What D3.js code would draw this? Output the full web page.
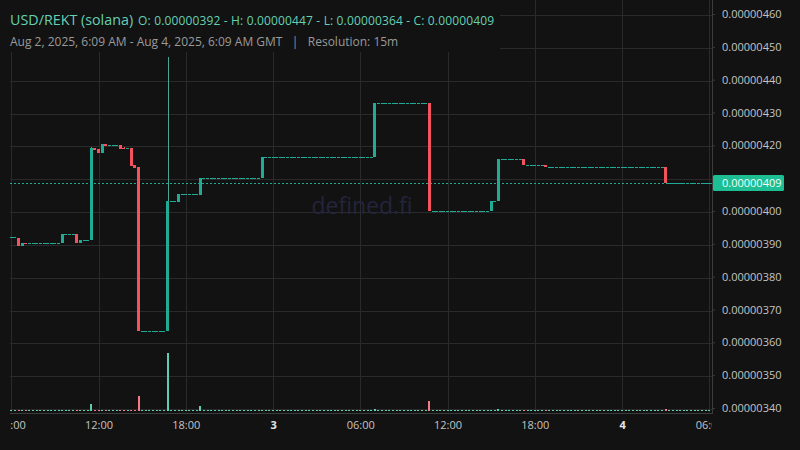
<!DOCTYPE html>
<html><head><meta charset="utf-8">
<script src="https://cdn.jsdelivr.net/npm/d3@7"></script>
<style>html,body{margin:0;padding:0;background:#121212;}svg{display:block;font-family:"Open Sans",sans-serif;}</style>
</head><body><svg id="c" width="800" height="450"></svg>
<script>
// prices in units of 1e-9 (i.e. 392 => 0.00000392)
const pairTitle = "USD/REKT (solana)";
const subtitle = "Aug 2, 2025, 6:09 AM - Aug 4, 2025, 6:09 AM GMT   |   Resolution: 15m";
const startTime = Date.UTC(2025, 7, 2, 6, 0);
const candleMinutes = 15;

const opens = [
 392,392,391.7,389.4,390.4,
 390.2,390.2,390.2,390.2,390.2,390.2,390.2,390.2,390.2,
 390.2,
 393.1,393.1,393.1,
 393.1,390.3,
 391.2,391.2,
 391.2,419.1,418.9,417.8,420.4,
 420.0,420.0,420.0,
 420.0,419.2,419.1,419.2,414.0,413.4,
 363.6,363.6,363.6,363.6,363.6,363.6,363.6,
 363.6,
 403.0,403.0,
 402.8,
 405.2,405.2,405.2,405.2,405.2,
 405.0,
 410.0,410.0,410.0,410.0,410.0,410.0,410.0,410.0,410.0,410.0,410.0,410.0,410.0,410.0,410.0,410.0,
 410.0,
 416.3,416.3,416.3,416.3,416.3,416.3,416.3,416.3,416.3,416.3,416.3,416.3,416.3,416.3,416.3,
 416.3,416.3,416.3,416.3,416.3,416.3,416.3,416.3,416.3,416.3,416.3,416.3,416.3,416.3,416.3,
 416.3,
 432.8,432.8,432.8,432.8,432.8,432.8,432.8,432.8,432.8,432.8,432.8,432.8,432.8,432.8,
 432.8,
 400.0,400.0,400.0,400.0,400.0,400.0,400.0,400.0,400.0,400.0,400.0,400.0,400.0,400.0,400.0,400.0,
 400.0,403.1,403.1,
 415.8,415.8,415.8,415.8,415.8,415.8,
 415.8,
 413.9,413.9,413.9,413.9,413.9,
 414.0,
 413.3,413.3,413.3,413.3,413.3,413.3,413.3,413.3,413.3,413.3,413.3,413.3,413.3,413.3,413.3,413.3,
 413.3,413.3,413.3,413.3,413.3,413.3,413.3,413.3,413.3,413.3,413.3,413.3,413.3,413.3,413.3,413.3,
 413.4,
 408.6,408.6,408.6,408.6,408.6,408.6,408.6,408.6,408.6,408.6,408.6,408.6
];
const closes = [
 392,392,389.4,390.3,390.2,
 390.2,390.2,390.2,390.2,390.2,390.2,390.2,390.2,390.2,
 393.1,
 393.1,393.1,393.1,
 390.3,391.2,
 391.2,391.2,
 419.1,418.6,417.8,420.4,419.9,
 420.0,420.0,420.0,
 418.9,419.0,419.1,413.8,413.2,363.6,
 363.6,363.6,363.6,363.6,363.6,363.6,363.6,
 403.0,
 403.0,403.0,
 405.2,
 405.2,405.2,405.2,405.2,405.2,
 410.0,
 410.0,410.0,410.0,410.0,410.0,410.0,410.0,410.0,410.0,410.0,410.0,410.0,410.0,410.0,410.0,410.0,
 416.3,
 416.3,416.3,416.3,416.3,416.3,416.3,416.3,416.3,416.3,416.3,416.3,416.3,416.3,416.3,416.3,
 416.3,416.3,416.3,416.3,416.3,416.3,416.3,416.3,416.3,416.3,416.3,416.3,416.3,416.3,416.3,
 432.8,
 432.8,432.8,432.8,432.8,432.8,432.8,432.8,432.8,432.8,432.8,432.8,432.8,432.8,432.8,
 400.0,
 400.0,400.0,400.0,400.0,400.0,400.0,400.0,400.0,400.0,400.0,400.0,400.0,400.0,400.0,400.0,400.0,
 403.1,403.1,415.8,
 415.8,415.8,415.8,415.8,415.8,415.8,
 413.9,
 413.9,413.9,413.9,413.9,413.9,
 413.3,
 413.3,413.3,413.3,413.3,413.3,413.3,413.3,413.3,413.3,413.3,413.3,413.3,413.3,413.3,413.3,413.3,
 413.3,413.3,413.3,413.3,413.3,413.3,413.3,413.3,413.3,413.3,413.3,413.3,413.3,413.3,413.3,413.3,
 408.6,
 408.6,408.6,408.6,408.6,408.6,408.6,408.6,408.6,408.6,408.6,408.6,408.6
];
// wick extremes that differ from the body (index -> value)
const highOverrides = [[22, 419.5], [31, 419.6], [43, 446.8]];
const lowOverrides = [];
const volumes = [
 0,0,1.5,1.5,0.5,
 0,0,0,0,0,0,0,0,0,
 0.5,
 0,0,0,
 0.5,0.5,
 0,0,
 8,0.5,0.5,1.2,0.5,
 0,0,0,
 0.5,0.5,0,1.3,0.5,16,
 0,0,0,0,0,0,0,
 59,
 0,0,
 0.5,
 0,0,0,0,0,
 6,
 0,0,0,0,0,0,0,0,0,0,0,0,0,0,0,0,
 1.2,
 0,0,0,0,0,0,0,0,0,0,0,0,0,0,0,
 0,0,0,0,0,0,0,0,0,0,0,0,0,0,0,
 3,
 0,0,0,0,0,0,0,0,0,0,0,0,0,0,
 11,
 0,0,0,0,0,0,0,0,0,0,0,0,0,0,0,0,
 1.2,0,3,
 0,0,0,0,0,0,
 1.2,
 0,0,0,0,0,
 0.5,
 0,0,0,0,0,0,0,0,0,0,0,0,0,0,0,0,
 0,0,0,0,0,0,0,0,0,0,0,0,0,0,0,0,
 3,
 0,0,0,0,0,0,0,0,0,0,0,0
];
const priceTicks = [340,350,360,370,380,390,400,410,420,430,440,450,460];
const timeTicks = [Date.UTC(2025,7,2,6),Date.UTC(2025,7,2,12),Date.UTC(2025,7,2,18),Date.UTC(2025,7,3,0),
  Date.UTC(2025,7,3,6),Date.UTC(2025,7,3,12),Date.UTC(2025,7,3,18),Date.UTC(2025,7,4,0),Date.UTC(2025,7,4,6)];
const timeTickLabels = ["06:00","12:00","18:00","3","06:00","12:00","18:00","4","06:00"];

(function () {
const fmt = v => (v * 1e-8).toFixed(8);

const data = opens.map((o, i) => {
  const c = closes[i];
  let h = Math.max(o, c), l = Math.min(o, c);
  highOverrides.forEach(([k, v]) => { if (k === i) h = v; });
  lowOverrides.forEach(([k, v]) => { if (k === i) l = v; });
  return { t: new Date(startTime + i * candleMinutes * 60000), o, h, l, c, v: volumes[i] };
});

const W = 800, HH = 450, PL = 10, PR = 712, PT = 0, PB = 412;
const BG = "#121212", GRID = "#2a2a2a", UP = "#22ab94", DOWN = "#f4525d",
      VUP = "#5fcdb1", VDOWN = "#f47a86", TXT = "#c4c4c4";

const svg = d3.select("#c");
svg.append("rect").attr("width", W).attr("height", HH).attr("fill", BG);
const defs = svg.append("defs");
defs.append("clipPath").attr("id", "plot").append("rect")
  .attr("x", PL).attr("y", PT).attr("width", PR - PL).attr("height", PB - PT);
defs.append("clipPath").attr("id", "xax").append("rect")
  .attr("x", PL).attr("y", PB).attr("width", PR - PL).attr("height", HH - PB);

const x = d3.scaleTime().domain([new Date(Date.UTC(2025,7,2,6)), new Date(Date.UTC(2025,7,4,6))]).range([11.3, 709.3]);
const y = d3.scaleLinear().domain([340, 460]).range([408, 14]);
const vy = d3.scaleLinear().domain([0, d3.max(volumes)]).range([411.5, 352.5]);

const g = svg.append("g").attr("clip-path", "url(#plot)").attr("shape-rendering", "crispEdges");
g.selectAll(".hg").data(priceTicks).join("line")
  .attr("x1", PL).attr("x2", PR).attr("y1", d => Math.round(y(d)) + 1.5).attr("y2", d => Math.round(y(d)) + 1.5)
  .attr("stroke", GRID);
g.selectAll(".vg").data(timeTicks).join("line")
  .attr("y1", PT).attr("y2", PB).attr("x1", d => Math.round(x(d)) + 0.5).attr("x2", d => Math.round(x(d)) + 0.5)
  .attr("stroke", GRID);

svg.append("text").attr("x", 362).attr("y", 214).attr("text-anchor", "middle")
  .attr("font-size", 23).attr("fill", "#24243c").text("defined.fi");

g.selectAll(".vol").data(data).join("rect")
  .attr("x", d => Math.round(x(d.t) - 1)).attr("width", 2)
  .attr("y", d => Math.min(Math.round(vy(d.v)), 410))
  .attr("height", d => 411 - Math.min(Math.round(vy(d.v)), 410))
  .attr("fill", d => d.c >= d.o ? VUP : VDOWN);

const last = data[data.length - 1];
g.append("line").attr("x1", PL).attr("x2", PR)
  .attr("y1", Math.round(y(last.c)) + 0.5).attr("y2", Math.round(y(last.c)) + 0.5)
  .attr("stroke", UP).attr("stroke-dasharray", "2,2");

g.selectAll(".wick").data(data.filter(d => d.h > Math.max(d.o, d.c) || d.l < Math.min(d.o, d.c))).join("line")
  .attr("x1", d => Math.round(x(d.t)) + 0.5).attr("x2", d => Math.round(x(d.t)) + 0.5)
  .attr("y1", d => Math.round(y(d.h))).attr("y2", d => Math.round(y(d.l)))
  .attr("stroke", d => d.c >= d.o ? "#4aa596" : DOWN);
g.selectAll(".body").data(data).join("rect")
  .attr("x", d => Math.round(x(d.t) - 1.5)).attr("width", 3)
  .attr("y", d => Math.round(y(Math.max(d.o, d.c))))
  .attr("height", d => Math.max(1, Math.round(y(Math.min(d.o, d.c))) - Math.round(y(Math.max(d.o, d.c)))))
  .attr("fill", d => d.c >= d.o ? UP : DOWN);

svg.append("line").attr("x1", PR + 0.5).attr("x2", PR + 0.5).attr("y1", 0).attr("y2", PB + 1)
  .attr("stroke", "#3c3c3c").attr("shape-rendering", "crispEdges");
svg.append("line").attr("x1", PL).attr("x2", PR + 1).attr("y1", PB + 1.5).attr("y2", PB + 1.5)
  .attr("stroke", "#3c3c3c").attr("shape-rendering", "crispEdges");

const py = Math.round(y(last.c));
// axis labels that would collide with the last-price label are hidden, as in the reference
const axisTicks = priceTicks.filter(v => Math.abs(y(v) - py) > 12);
const ya = d3.axisRight(y).tickValues(axisTicks).tickFormat(fmt).tickSize(3).tickPadding(7);
const yg = svg.append("g").attr("transform", `translate(${PR},0)`).call(ya);
yg.select(".domain").remove();
yg.selectAll("line").attr("stroke", "#3c3c3c");
yg.selectAll("text").attr("fill", TXT).attr("font-size", 11).attr("font-family", "Open Sans");

svg.append("rect").attr("x", PR + 1).attr("y", py - 8).attr("width", 71).attr("height", 16)
  .attr("rx", 1.5).attr("fill", "#1dbe94");
svg.append("text").attr("x", 722).attr("y", py + 4).attr("font-size", 11).attr("fill", "#f0fffa")
  .text(fmt(last.c));

const xa = d3.axisBottom(x).tickValues(timeTicks.map(d => new Date(d)))
  .tickFormat((d, i) => timeTickLabels[i]).tickSize(0).tickPadding(8);
const xg = svg.append("g").attr("clip-path", "url(#xax)").append("g")
  .attr("transform", `translate(0,${PB + 1})`).call(xa);
xg.select(".domain").remove();
xg.selectAll("text").attr("font-size", 11).attr("font-family", "Open Sans")
  .attr("fill", (d, i) => /^\d$/.test(timeTickLabels[i]) ? "#e6e6e6" : TXT)
  .attr("font-weight", (d, i) => /^\d$/.test(timeTickLabels[i]) ? "bold" : "normal");

svg.append("rect").attr("x", 0).attr("y", 0).attr("width", 500).attr("height", 52).attr("fill", BG);
const hi = d3.max(data, d => d.h), lo = d3.min(data, d => d.l);
const hdr = svg.append("text").attr("x", 10).attr("y", 25).attr("fill", "#66d0b2");
hdr.append("tspan").attr("font-size", 14.3).text(pairTitle);
hdr.append("tspan").attr("dx", 5).attr("font-size", 12).attr("letter-spacing", 0.15)
  .text(`O: ${fmt(data[0].o)} - H: ${fmt(hi)} - L: ${fmt(lo)} - C: ${fmt(last.c)}`);
svg.append("text").attr("x", 10).attr("y", 46).attr("fill", "#9a9a9a").attr("font-size", 12)
  .attr("xml:space", "preserve").style("white-space", "pre").text(subtitle);
})();
</script></body></html>
